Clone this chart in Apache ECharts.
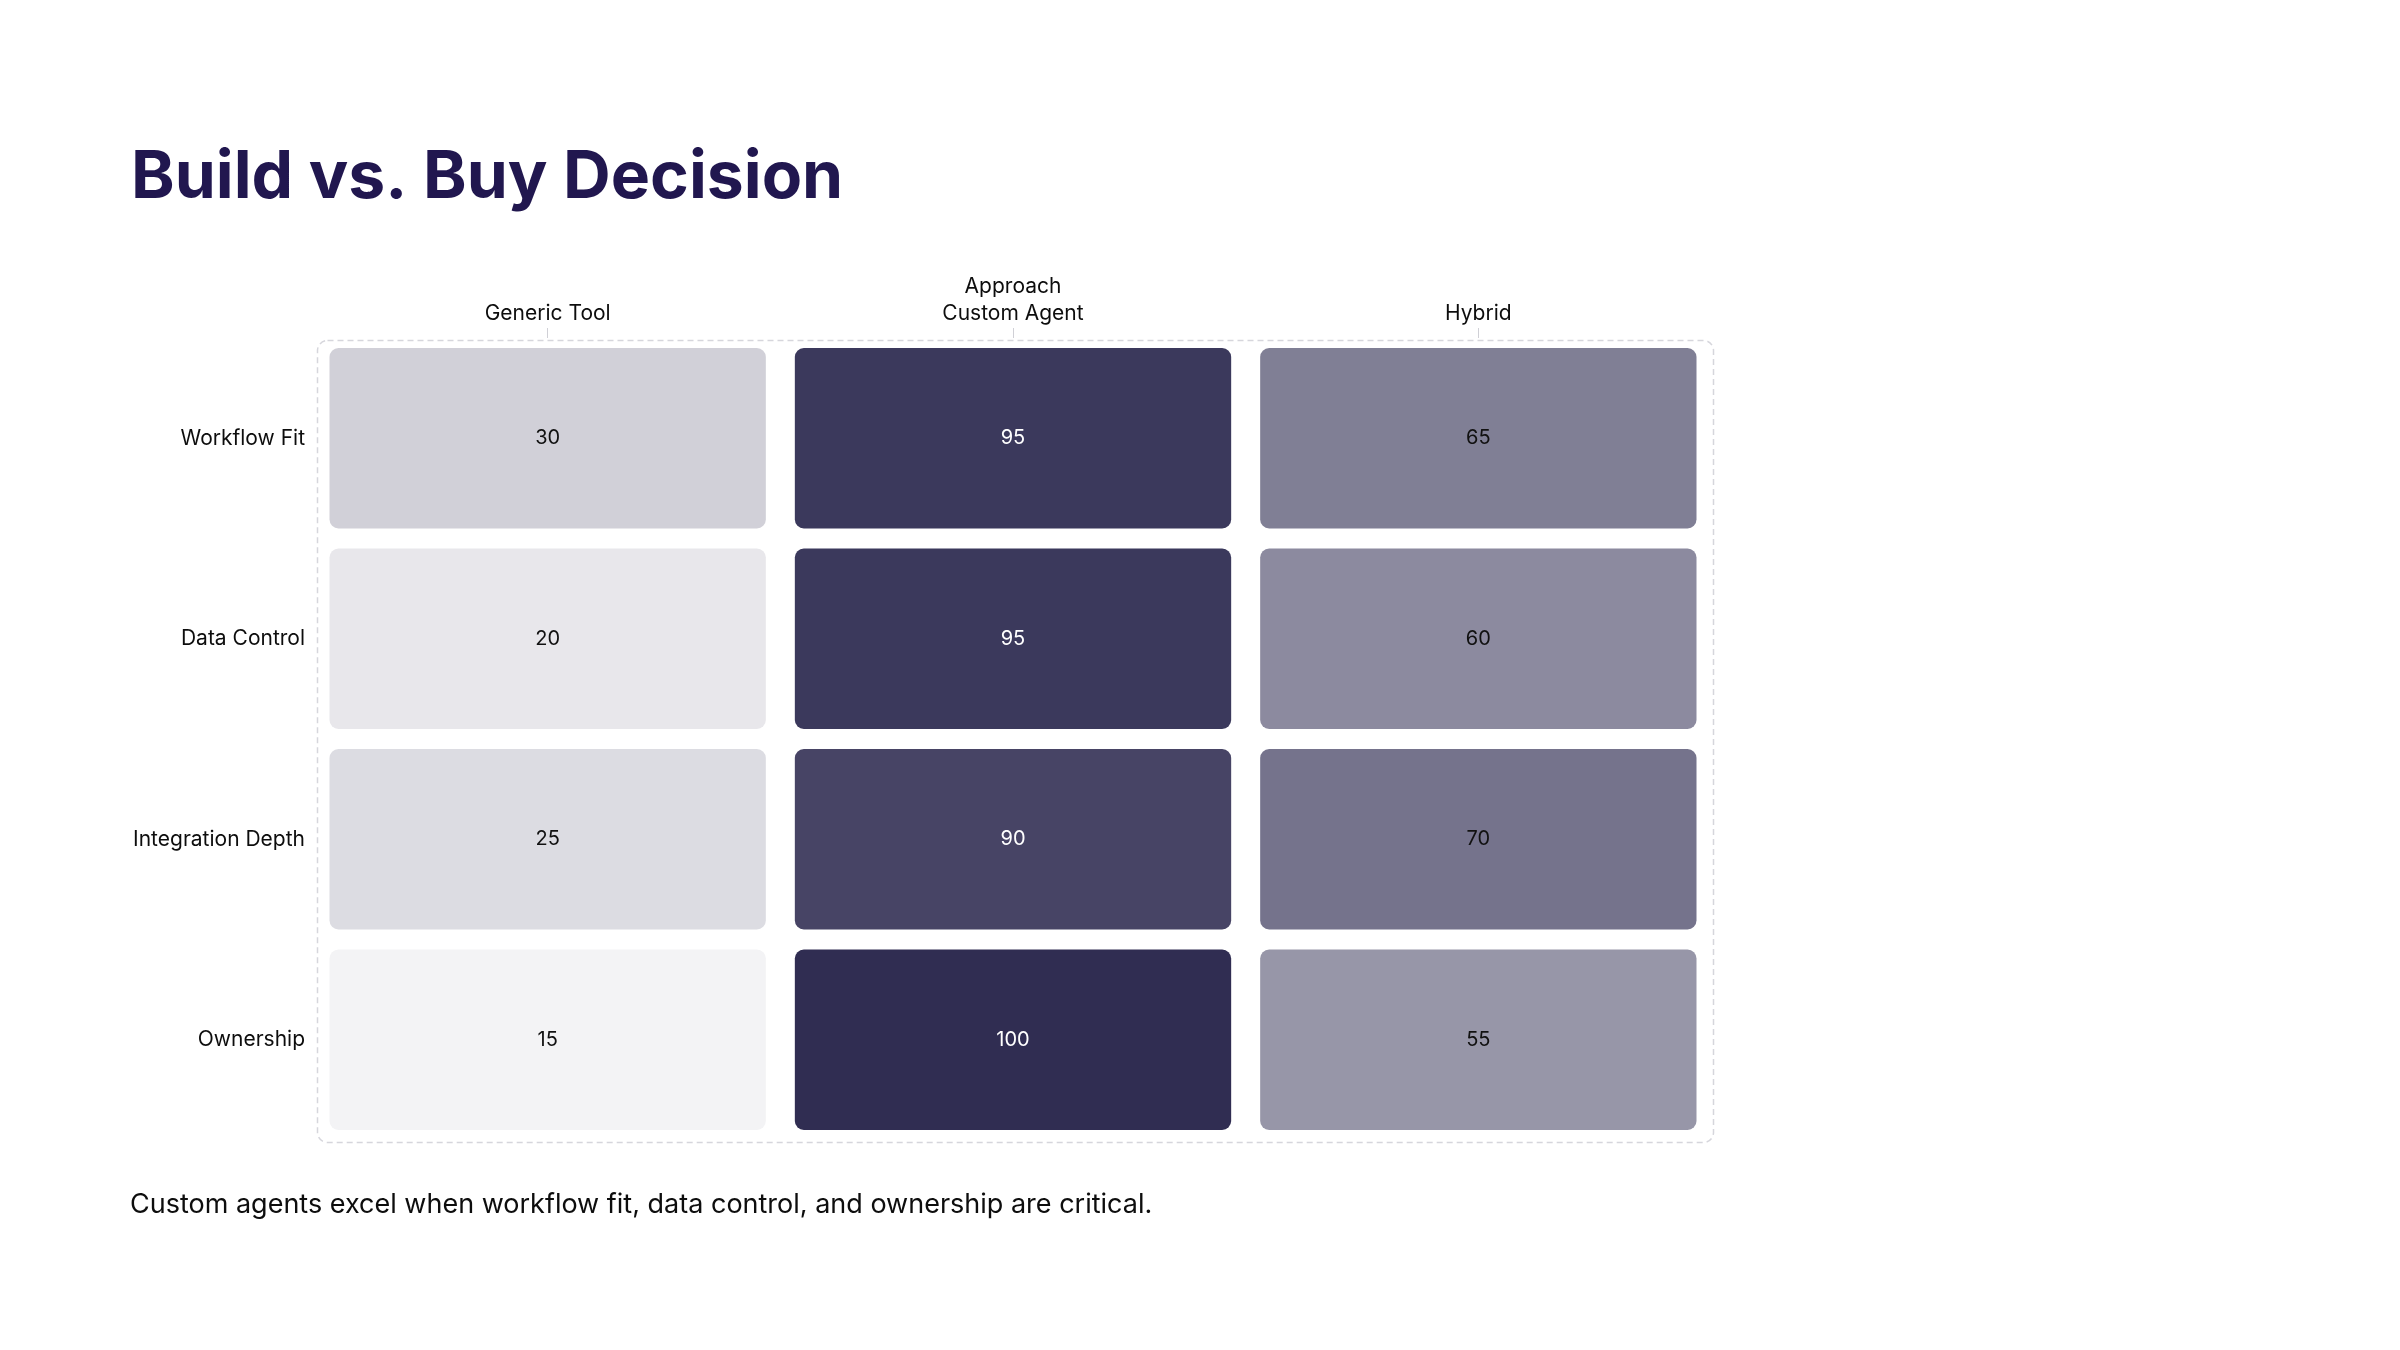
<!DOCTYPE html>
<html>
<head>
<meta charset="utf-8">
<script src="https://cdn.jsdelivr.net/npm/echarts@6/dist/echarts.min.js"></script>
<style>
  html, body { margin: 0; padding: 0; background: #ffffff; }
  #main { width: 2400px; height: 1350px; }
</style>
</head>
<body>
<div id="main"></div>
<script>
// data
var approaches = ['Generic Tool', 'Custom Agent', 'Hybrid'];
var criteria = ['Workflow Fit', 'Data Control', 'Integration Depth', 'Ownership'];
// scores per criterion, one array per approach
var genericTool = [30, 20, 25, 15];
var customAgent = [95, 95, 90, 100];
var hybrid = [65, 60, 70, 55];

var scores = [genericTool, customAgent, hybrid];
var cells = [];
for (var i = 0; i < approaches.length; i++) {
    for (var j = 0; j < criteria.length; j++) {
        cells.push([i, j, scores[i][j]]);
    }
}

var myChart = echarts.init(document.getElementById('main'));

var gridLeft = 315, gridTop = 338, gridRight = 689, gridBottom = 210;

function renderCell(params, api) {
    var c = api.coord([api.value(0), api.value(1)]);
    var size = api.size([1, 1]);
    var w = size[0] - 29, h = size[1] - 20;
    var v = api.value(2);
    return {
        type: 'rect',
        shape: { x: c[0] - w / 2, y: c[1] - h / 2, width: w, height: h, r: 9 },
        style: { fill: api.visual('color') },
        textContent: {
            style: {
                text: String(v),
                fill: v >= 80 ? '#ffffff' : '#111111',
                font: '20px Inter'
            }
        },
        textConfig: { position: 'inside' }
    };
}

var option = {
    backgroundColor: '#ffffff',
    textStyle: { fontFamily: 'Inter' },
    title: {
        text: 'Build vs. Buy Decision',
        left: 126,
        top: 140,
        textStyle: { fontSize: 66, fontWeight: 'bold', color: '#21174f', fontFamily: 'Inter' }
    },
    grid: { left: gridLeft, top: gridTop, right: gridRight, bottom: gridBottom },
    visualMap: {
        show: false,
        dimension: 2,
        min: 15,
        max: 100,
        inRange: { color: ['#f3f3f5', '#302d52'] }
    },
    xAxis: {
        type: 'category',
        position: 'top',
        data: approaches,
        name: 'Approach',
        nameLocation: 'middle',
        nameGap: 41,
        nameTextStyle: { fontSize: 21, color: '#0d0d0d' },
        axisLine: { show: false },
        axisTick: { show: true, alignWithLabel: true, length: 10, lineStyle: { color: '#d0d0d6' } },
        axisLabel: { fontSize: 21, color: '#0d0d0d', margin: 14 },
        splitLine: { show: false }
    },
    yAxis: {
        type: 'category',
        data: criteria,
        inverse: true,
        axisLine: { show: false },
        axisTick: { show: false },
        axisLabel: { fontSize: 21, color: '#0d0d0d', margin: 10 },
        splitLine: { show: false }
    },
    graphic: [
        {
            type: 'rect',
            left: gridLeft,
            top: gridTop,
            shape: { width: 2400 - gridLeft - gridRight, height: 1350 - gridTop - gridBottom, r: 10 },
            style: { fill: 'none', stroke: '#d6d6dc', lineWidth: 1.5, lineDash: [6, 4] },
            silent: true,
            z: 0
        },
        {
            type: 'text',
            left: 130,
            top: 1191,
            style: {
                text: 'Custom agents excel when workflow fit, data control, and ownership are critical.',
                font: '27px Inter',
                fill: '#0d0d0d'
            }
        }
    ],
    series: [
        {
            type: 'custom',
            renderItem: renderCell,
            encode: { x: 0, y: 1 },
            data: cells,
            z: 2
        }
    ]
};

myChart.setOption(option);
</script>
</body>
</html>
